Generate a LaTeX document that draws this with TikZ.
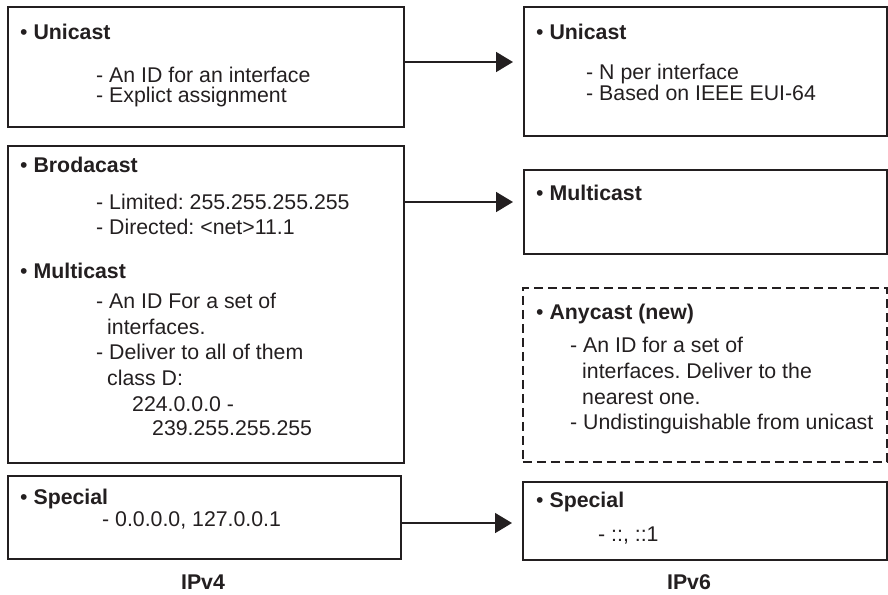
\documentclass[tikz,border=0pt]{standalone}
\usepackage{fontspec}
\setmainfont{Liberation Sans}
\usetikzlibrary{arrows.meta}
\definecolor{ink}{HTML}{231F20}
\frenchspacing
\tikzset{
  box/.style={draw=ink, line width=1.8pt, anchor=north west, inner sep=0pt},
  dbox/.style={box, dash pattern=on 9pt off 5pt},
  tx/.style={anchor=base west, inner sep=0pt, text=ink, font=\fontsize{21.3}{25}\selectfont\frenchspacing},
  lbl/.style={anchor=base, inner sep=0pt, text=ink, font=\fontsize{21.3}{25}\selectfont\bfseries},
  arr/.style={draw=ink, line width=1.6pt, -{Triangle[length=17pt,width=20pt]}, shorten >=10pt}
}
\begin{document}
\begin{tikzpicture}[x=1pt,y=-1pt]
\useasboundingbox (0,0) rectangle (888,594);
% boxes
\node[box, minimum width=396pt, minimum height=120pt] (l1) at (7,6) {};
\node[box, minimum width=396pt, minimum height=317pt] (l2) at (7,145) {};
\node[box, minimum width=393pt, minimum height=83pt] (l3) at (7,475) {};
\node[box, minimum width=363pt, minimum height=129pt] (r1) at (523,6) {};
\node[box, minimum width=363pt, minimum height=84pt] (r2) at (523,169) {};
\node[dbox, minimum width=364pt, minimum height=174pt] (r3) at (522,287) {};
\node[box, minimum width=364pt, minimum height=78pt] (r4) at (522,481) {};
% left box 1
\node[tx] (l1a) at (20,39.5) {• \textbf{Unicast}};
\node[tx] (l1b) at (96,82.5) {- An ID for an interface};
\node[tx] (l1c) at (96,102.5) {- Explict assignment};
% left box 2
\node[tx] (l2a) at (20,172.5) {• \textbf{Brodacast}};
\node[tx] (l2b) at (96,209.5) {- Limited: 255.255.255.255};
\node[tx] (l2c) at (96,234.5) {- Directed: <net>11.1};
\node[tx] (l2d) at (20,278.5) {• \textbf{Multicast}};
\node[tx] (l2e) at (96,308.5) {- An ID For a set of};
\node[tx] (l2f) at (107,334.5) {interfaces.};
\node[tx] (l2g) at (96,359.5) {- Deliver to all of them};
\node[tx] (l2h) at (107,385.5) {class D:};
\node[tx] (l2i) at (132,411.5) {224.0.0.0 -};
\node[tx] (l2j) at (152,435.5) {239.255.255.255};
% left box 3
\node[tx] (l3a) at (20,504.5) {• \textbf{Special}};
\node[tx] (l3b) at (102,526.5) {- 0.0.0.0, 127.0.0.1};
% right box 1
\node[tx] (r1a) at (536,39.5) {• \textbf{Unicast}};
\node[tx] (r1b) at (586,79.5) {- N per interface};
\node[tx] (r1c) at (586,100.5) {- Based on IEEE EUI-64};
% right box 2
\node[tx] (r2a) at (536,200.5) {• \textbf{Multicast}};
% right box 3
\node[tx] (r3a) at (536,319.5) {• \textbf{Anycast (new)}};
\node[tx] (r3b) at (570,352.5) {- An ID for a set of};
\node[tx] (r3c) at (582,378.5) {interfaces. Deliver to the};
\node[tx] (r3d) at (582,404.5) {nearest one.};
\node[tx] (r3e) at (570,429.5) {- Undistinguishable from unicast};
% right box 4
\node[tx] (r4a) at (536,507.5) {• \textbf{Special}};
\node[tx] (r4b) at (598,541.5) {- ::, ::1};
% labels
\node[lbl] (v4) at (203,589.5) {IPv4};
\node[lbl] (v6) at (689,589.5) {IPv6};
% arrows
\coordinate (y1) at (0,62);
\coordinate (y2) at (0,202);
\coordinate (y3) at (0,523);
\draw[arr] (l1.east |- y1) -- (r1.west |- y1);
\draw[arr] (l2.east |- y2) -- (r2.west |- y2);
\draw[arr] (l3.east |- y3) -- (r4.west |- y3);
\end{tikzpicture}
\end{document}
